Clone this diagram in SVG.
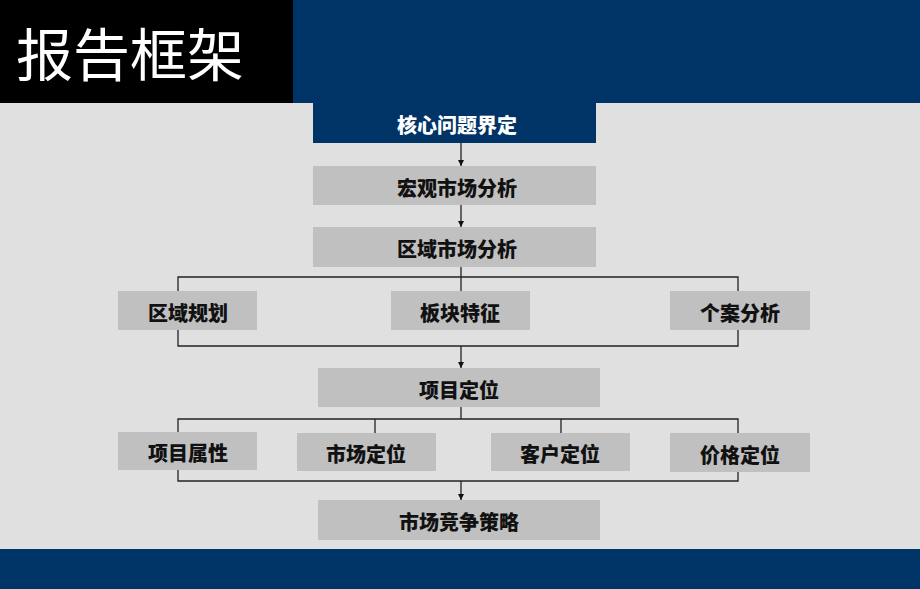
<svg xmlns="http://www.w3.org/2000/svg" width="920" height="589" viewBox="0 0 920 589">
<style>
.box{fill:#C0C0C0}
.lbl{font-family:"Noto Sans CJK SC","Noto Sans",sans-serif;font-weight:900;font-size:20px;fill:#111;text-anchor:middle;dominant-baseline:central}
.ln{stroke:#222;stroke-width:1.3;fill:none}
</style>
<defs>
<marker id="ah" viewBox="0 0 10 10" refX="10" refY="5" markerWidth="6" markerHeight="6" orient="auto" markerUnits="userSpaceOnUse">
<path d="M0,0 L10,5 L0,10 z" fill="#111"/>
</marker>
</defs>
<rect x="0" y="0" width="920" height="589" fill="#E0E0E0"/>
<rect x="0" y="0" width="293" height="103" fill="#000"/>
<rect x="293" y="0" width="627" height="103" fill="#003366"/>
<rect x="0" y="549" width="920" height="40" fill="#003366"/>
<text x="16" y="76" font-family="Noto Sans CJK SC,sans-serif" font-size="57" fill="#fff">报告框架</text>

<g id="connectors">
<path class="ln" d="M461,143 V166" marker-end="url(#ah)"/>
<path class="ln" d="M461,205 V227" marker-end="url(#ah)"/>
<path class="ln" d="M461,267 V291 M178,291 V277 H738 V291"/>
<path class="ln" d="M178,330 V346 H738 V330"/>
<path class="ln" d="M461,346 V368" marker-end="url(#ah)"/>
<path class="ln" d="M461,407 V419 M178,432 V419 H738 V433 M375,419 V433 M561,419 V433"/>
<path class="ln" d="M178,470 V481 H738 V472"/>
<path class="ln" d="M461,481 V500" marker-end="url(#ah)"/>
</g>

<g id="n1"><rect x="313" y="103" width="283" height="40" fill="#003366"/><text class="lbl" x="457" y="124" style="fill:#fff">核心问题界定</text></g>
<g id="n2"><rect class="box" x="313" y="166" width="283" height="39"/><text class="lbl" x="457" y="187">宏观市场分析</text></g>
<g id="n3"><rect class="box" x="313" y="227" width="283" height="40"/><text class="lbl" x="457" y="248">区域市场分析</text></g>
<g id="n4"><rect class="box" x="118" y="291" width="139" height="39"/><text class="lbl" x="188" y="312">区域规划</text></g>
<g id="n5"><rect class="box" x="391" y="291" width="139" height="39"/><text class="lbl" x="460" y="312">板块特征</text></g>
<g id="n6"><rect class="box" x="670" y="291" width="140" height="39"/><text class="lbl" x="740" y="312">个案分析</text></g>
<g id="n7"><rect class="box" x="318" y="368" width="282" height="39"/><text class="lbl" x="459" y="389">项目定位</text></g>
<g id="n8"><rect class="box" x="118" y="432" width="139" height="38"/><text class="lbl" x="188" y="452">项目属性</text></g>
<g id="n9"><rect class="box" x="297" y="433" width="139" height="38"/><text class="lbl" x="366" y="453">市场定位</text></g>
<g id="n10"><rect class="box" x="491" y="433" width="139" height="38"/><text class="lbl" x="560" y="453">客户定位</text></g>
<g id="n11"><rect class="box" x="670" y="433" width="140" height="39"/><text class="lbl" x="740" y="454">价格定位</text></g>
<g id="n12"><rect class="box" x="318" y="500" width="282" height="40"/><text class="lbl" x="459" y="521">市场竞争策略</text></g>
</svg>
